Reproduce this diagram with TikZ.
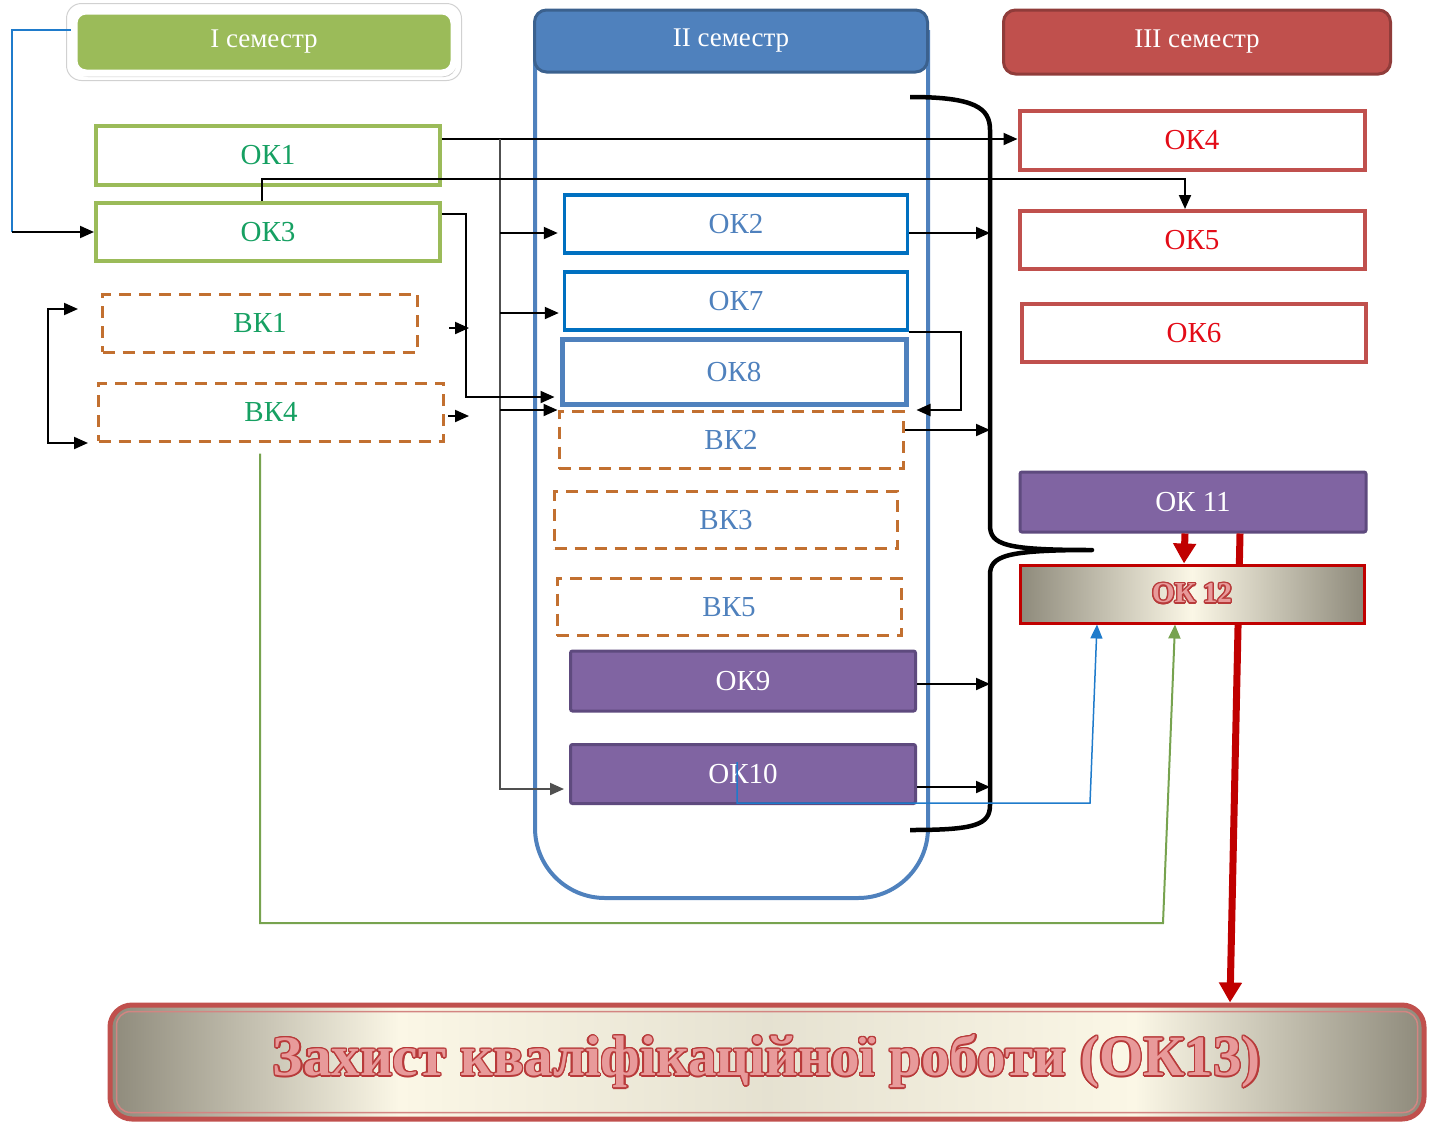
\documentclass[tikz,border=0pt]{standalone}
\usepackage{fontspec}
\setmainfont{Liberation Serif}
\usepackage{contour}
\usetikzlibrary{arrows.meta,shadows}

\definecolor{hdrgreen}{HTML}{9BBB59}
\definecolor{okgreen}{HTML}{16A062}
\definecolor{hdrblue}{HTML}{4F81BD}
\definecolor{okblue}{HTML}{0070C0}
\definecolor{hdrred}{HTML}{C0504D}
\definecolor{okred}{HTML}{E30B17}
\definecolor{vkbrown}{HTML}{C27030}
\definecolor{okpurple}{HTML}{8064A2}
\definecolor{purpleline}{HTML}{5E4A7E}
\definecolor{darkred}{HTML}{C00000}
\definecolor{shgrey}{HTML}{8E8A7B}
\definecolor{shcream}{HTML}{FBF7E6}
\definecolor{linkgreen}{HTML}{77A34F}
\definecolor{linkblue}{HTML}{1F7BCB}
\definecolor{trunkgrey}{HTML}{505050}
\definecolor{wordred}{HTML}{B83A3A}
\definecolor{wordpink}{HTML}{E89A9A}

\pgfdeclarehorizontalshading{bannershade}{100bp}{color(0bp)=(shgrey); color(25bp)=(shgrey); color(36bp)=(shcream); color(50bp)=(shcream!80!shgrey); color(64bp)=(shcream); color(75bp)=(shgrey); color(100bp)=(shgrey)}

\contourlength{1.4pt}
\newcommand{\wordart}[1]{\contour{wordred}{\textcolor{wordpink}{#1}}}

\tikzset{
  okbox/.style={minimum width=344pt, minimum height=58pt, inner sep=0pt, font=\fontsize{29}{34}\selectfont},
  okI/.style={okbox, draw=hdrgreen, line width=4pt, text=okgreen},
  vkI/.style={okbox, draw=vkbrown, line width=3pt, dash pattern=on 12pt off 8pt, text=okgreen},
  okII/.style={okbox, draw=okblue, line width=3.5pt, text=hdrblue},
  vkII/.style={okbox, draw=vkbrown, line width=3pt, dash pattern=on 12pt off 8pt, text=hdrblue},
  okIII/.style={okbox, draw=hdrred, line width=4pt, text=okred},
  okfill/.style={okbox, fill=okpurple, draw=purpleline, line width=3pt, rounded corners=2pt, text=white},
  semhdr/.style={minimum height=62pt, inner sep=0pt, rounded corners=12pt, text=white, font=\fontsize{27}{32}\selectfont},
  arr/.style={line width=2pt, -{Triangle[length=14pt,width=12pt]}},
  redarr/.style={darkred, line width=7pt, -{Triangle[length=20pt,width=22pt]}},
  bluelink/.style={linkblue, line width=1.5pt},
  greenlink/.style={linkgreen, line width=2pt}
}

\begin{document}
\begin{tikzpicture}[x=1pt,y=-1pt]
\useasboundingbox (0,0) rectangle (1434,1122);
\draw[hdrblue, line width=4pt, rounded corners=70pt] (535,30)--(535,898)--(928,898)--(928,30);

\node[semhdr, fill=hdrgreen, draw=white, line width=7pt, minimum width=380pt,
  drop shadow={shadow xshift=2pt, shadow yshift=-4pt, opacity=0.45, fill=black!45}] (h1) at (264,42) {I семестр};
\draw[black!18, line width=1pt, rounded corners=15pt] ([shift={(-4pt,4pt)}]h1.north west) rectangle ([shift={(4pt,-4pt)}]h1.south east);
\node[semhdr, fill=hdrblue, draw=hdrblue!75!black, line width=3pt, minimum width=393pt] (h2) at (731,41) {II семестр};
\node[semhdr, fill=hdrred, draw=hdrred!75!black, line width=3pt, minimum width=387pt, minimum height=64pt] (h3) at (1197,42) {III семестр};

\node[okI, minimum height=59pt] (ok1) at (268,155) {ОК1};
\node[okI] (ok3) at (268,232) {ОК3};
\node[vkI, minimum width=315pt] (bk1) at (260,323) {ВК1};
\node[vkI, minimum width=345pt] (bk4) at (271,412) {ВК4};

\node[okII, minimum width=343pt] (ok2) at (736,224) {ОК2};
\node[okII, minimum width=343pt] (ok7) at (736,301) {ОК7};
\node[okII, draw=hdrblue, line width=5pt, minimum height=65pt] (ok8) at (734,372) {ОК8};
\node[vkII, minimum height=57pt] (bk2) at (731,440) {ВК2};
\node[vkII, minimum width=343pt, minimum height=57pt] (bk3) at (726,520) {ВК3};
\node[vkII, minimum height=57pt] (bk5) at (729,607) {ВК5};
\node[okfill, minimum width=345pt, minimum height=60pt] (ok9) at (743,681) {ОК9};
\node[okfill, minimum width=345pt, minimum height=59pt] (ok10) at (743,774) {ОК10};

\node[okIII, minimum width=345pt, minimum height=59pt] (ok4) at (1192,140) {ОК4};
\node[okIII, minimum width=345pt] (ok5) at (1192,240) {ОК5};
\node[okIII] (ok6) at (1194,333) {ОК6};
\node[okfill, minimum width=346pt, minimum height=60pt] (ok11) at (1193,502) {ОК 11};

\node[draw=hdrred, line width=5pt, rounded corners=22pt, shading=bannershade,
  minimum width=1314pt, minimum height=114pt, inner sep=0pt,
  font=\bfseries\fontsize{57}{60}\selectfont] (zakhyst) at (767,1062) {\wordart{Захист кваліфікаційної роботи (ОК13)}};
\draw[hdrred!70, line width=1.5pt, rounded corners=14pt] ([shift={(9pt,-9pt)}]zakhyst.north west) rectangle ([shift={(-9pt,9pt)}]zakhyst.south east);

\coordinate (trunk) at (500,139);
\coordinate (br) at (990,550);
\coordinate (bluecorner) at (1090,803);
\coordinate (greencorner) at (1163,923);

\draw[bluelink] ([yshift=12pt]h1.west) -| ([xshift=-82pt]ok3.west);
\draw[arr] ([xshift=-82pt]ok3.west) -- (ok3.west);

\draw[arr] ([yshift=16pt]ok1.east) -- ([yshift=16pt]ok1.east -| ok4.west);
\draw[arr, trunkgrey] (trunk) |- ([xshift=-5pt,yshift=-15pt]ok10.west);
\draw[arr] ([yshift=-9pt]ok2.west -| trunk) -- ([xshift=-5pt,yshift=-9pt]ok2.west);
\draw[arr] ([yshift=-12pt]ok7.west -| trunk) -- ([xshift=-4pt,yshift=-12pt]ok7.west);
\draw[arr] (bk2.north west -| trunk) -- (bk2.north west);

\draw[arr] ([xshift=-6pt]ok3.north) -- ++(0,-22) -| ([xshift=-7pt]ok5.north);
\draw[arr] ([yshift=18pt]ok3.east) -- ++(24,0) |- ([xshift=-5pt,yshift=-25pt]ok8.west);

\draw[arr] ([xshift=30pt,yshift=-5pt]bk1.east) -- ++(20,0);
\draw[arr] ([xshift=3pt,yshift=-4pt]bk4.east) -- ++(21,0);
\draw[line width=2pt, {Triangle[length=14pt,width=12pt]}-{Triangle[length=14pt,width=12pt]}]
  ([xshift=-23pt,yshift=14pt]bk1.west) -- ++(-30,0) |- ([xshift=-9pt,yshift=-31pt]bk4.west);

\draw[arr] ([yshift=-9pt]ok2.east) -- ([yshift=-9pt]ok2.east -| br);
\draw[arr] (ok7.south east) -- ++(52,0) |- ([xshift=12pt]bk2.north east);
\draw[arr] ([yshift=10pt]bk2.east) -- ([yshift=10pt]bk2.east -| br);
\draw[arr] ([yshift=-3pt]ok9.east) -- ([yshift=-3pt]ok9.east -| br);
\draw[arr] ([yshift=-13pt]ok10.east) -- ([yshift=-13pt]ok10.east -| br);

\draw[line width=4.5pt, line join=round] (910,97) .. controls (975,97) and (990,108) .. (990,130)
  -- (990,525) .. controls (990,545) and (1005,550) .. (1092,550)
  .. controls (1005,550) and (990,556) .. (990,575)
  -- (990,805) .. controls (990,825) and (975,830) .. (910,830);

\draw[redarr] ([xshift=47pt]ok11.south) -- ([xshift=463pt]zakhyst.north);
\node[okbox, draw=darkred, line width=3pt, left color=shgrey, right color=shgrey, middle color=shcream,
  font=\bfseries\fontsize{29}{34}\selectfont] (ok12) at (1192,594) {\wordart{ОК 12}};
\draw[redarr] ([xshift=-8pt]ok11.south) -- ([xshift=-8pt]ok12.north);

\draw[bluelink, -{Triangle[length=14pt,width=12pt]}] ([xshift=-6pt,yshift=12pt]ok10.center) |- (bluecorner) -- ([xshift=-95pt]ok12.south);
\draw[greenlink, -{Triangle[length=14pt,width=12pt]}] ([xshift=-11pt,yshift=-11pt]bk4.south) |- (greencorner) -- ([xshift=-17pt]ok12.south);
\end{tikzpicture}
\end{document}
